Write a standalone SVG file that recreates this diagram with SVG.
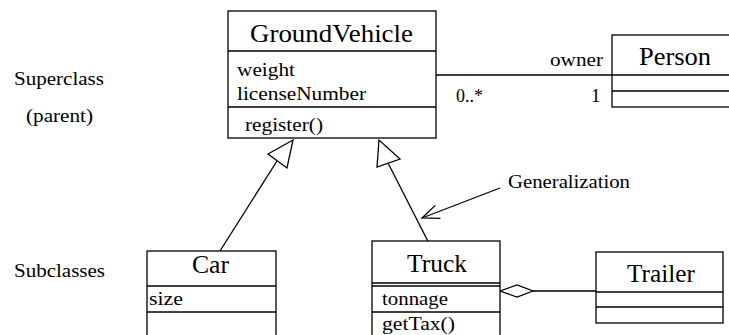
<svg xmlns="http://www.w3.org/2000/svg" width="729" height="335" viewBox="0 0 729 335">
<style>
.t{font-size:26px}
.s{font-size:19px}
.b{fill:#fff;stroke:#000;stroke-width:1.3}
.l{stroke:#000;stroke-width:1.3;fill:none}
</style>
<defs>
<marker id="open" viewBox="0 0 20 20" refX="18" refY="10" markerWidth="20" markerHeight="20" markerUnits="userSpaceOnUse" orient="auto">
<path d="M1,3 L18,10 L1,17" fill="none" stroke="#000" stroke-width="1.3"/>
</marker>
</defs>
<g font-family="Liberation Serif, serif" fill="#000">
<g id="labels">
<text class="s" x="14" y="85" textLength="90" lengthAdjust="spacingAndGlyphs">Superclass</text>
<text class="s" x="26" y="122" textLength="67" lengthAdjust="spacingAndGlyphs">(parent)</text>
<text class="s" x="14" y="277" textLength="91" lengthAdjust="spacingAndGlyphs">Subclasses</text>
<text class="s" x="508" y="188" textLength="122" lengthAdjust="spacingAndGlyphs">Generalization</text>
</g>
<g id="connectors">
<line class="l" x1="436" y1="75" x2="612" y2="75"/>
<text class="s" x="550" y="66" textLength="53" lengthAdjust="spacingAndGlyphs">owner</text>
<text class="s" x="456" y="102" textLength="27" lengthAdjust="spacingAndGlyphs">0..*</text>
<text class="s" x="591" y="102">1</text>
<line class="l" x1="220" y1="251" x2="277" y2="161"/>
<polygon class="b" points="293,140 268,154 287,168"/>
<line class="l" x1="436" y1="257" x2="388" y2="163"/>
<polygon class="b" points="379,140 377,167 400,159"/>
<line class="l" x1="500" y1="188" x2="422" y2="218" marker-end="url(#open)"/>
<line class="l" x1="533" y1="291" x2="596" y2="291"/>
<polygon class="b" points="500,291 517,285 533,291 517,297"/>
</g>
<g id="GroundVehicle">
<rect class="b" x="228" y="11" width="208" height="127"/>
<line class="l" x1="228" y1="51" x2="436" y2="51"/>
<line class="l" x1="228" y1="107" x2="436" y2="107"/>
<text class="t" x="250" y="42" textLength="163" lengthAdjust="spacingAndGlyphs">GroundVehicle</text>
<text class="s" x="237" y="76" textLength="58" lengthAdjust="spacingAndGlyphs">weight</text>
<text class="s" x="237" y="100" textLength="129" lengthAdjust="spacingAndGlyphs">licenseNumber</text>
<text class="s" x="245" y="131" textLength="78" lengthAdjust="spacingAndGlyphs">register()</text>
</g>
<g id="Person">
<rect class="b" x="612" y="35" width="130" height="72"/>
<line class="l" x1="612" y1="75" x2="742" y2="75"/>
<line class="l" x1="612" y1="91" x2="742" y2="91"/>
<text class="t" x="639" y="65" textLength="72" lengthAdjust="spacingAndGlyphs">Person</text>
</g>
<g id="Car">
<rect class="b" x="147" y="251" width="129" height="100"/>
<line class="l" x1="147" y1="286" x2="276" y2="286"/>
<line class="l" x1="147" y1="312" x2="276" y2="312"/>
<text class="t" x="192" y="273" textLength="37" lengthAdjust="spacingAndGlyphs">Car</text>
<text class="s" x="149" y="305" textLength="34" lengthAdjust="spacingAndGlyphs">size</text>
</g>
<g id="Truck">
<rect class="b" x="372" y="241" width="128" height="110"/>
<line class="l" x1="372" y1="283" x2="500" y2="283"/>
<line class="l" x1="372" y1="286" x2="500" y2="286"/>
<line class="l" x1="372" y1="312" x2="500" y2="312"/>
<text class="t" x="407" y="272" textLength="60" lengthAdjust="spacingAndGlyphs">Truck</text>
<text class="s" x="382" y="305" textLength="66" lengthAdjust="spacingAndGlyphs">tonnage</text>
<text class="s" x="382" y="330" textLength="73" lengthAdjust="spacingAndGlyphs">getTax()</text>
</g>
<g id="Trailer">
<rect class="b" x="596" y="252" width="127" height="71"/>
<line class="l" x1="596" y1="292" x2="723" y2="292"/>
<line class="l" x1="596" y1="307" x2="723" y2="307"/>
<text class="t" x="627" y="282" textLength="68" lengthAdjust="spacingAndGlyphs">Trailer</text>
</g>
</g>
</svg>
